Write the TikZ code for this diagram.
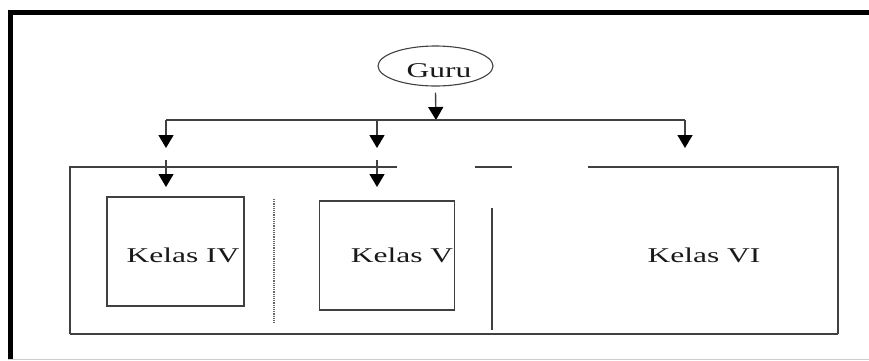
\documentclass[tikz,border=0pt]{standalone}
\usepackage{fontspec}
\setmainfont{Liberation Serif}
\usepackage{graphicx}
\usepackage{xcolor}
\usetikzlibrary{arrows.meta}
\usetikzlibrary{shapes.geometric}
\tikzset{
    plain_line/.style = {draw=black!75, line width=1.4pt},
    guru_node/.style = {ellipse, draw=black!75, line width=1.1pt, minimum width=115pt, minimum height=40pt, inner sep=0pt},
    kelas_box/.style = {plain_line, rectangle, inner sep=0pt},
    kelas_text/.style = {inner sep=0pt, text=black!90, font=\fontsize{21}{25}\selectfont},
    down_arrow/.style = {plain_line, -{Triangle[length=13pt,width=15pt,color=black]}}
}
\newcommand{\wide}[1]{\scalebox{1.5}[1]{#1}}

\begin{document}
\begin{tikzpicture}
            [x=1pt, y=-1pt]

            \useasboundingbox (0,0) rectangle (869,360);

            % outer frame
            \draw[line width=5pt, black] (10.5,360) -- (10.5,12.5) -- (872,12.5);
            \draw[line width=1pt, black!20] (8,359.5) -- (869,359.5);

            % guru and branches
            \node [guru_node] (guru) at (435.5,66) {};
            \node [kelas_text] (guru_text) at (439,71) {\wide{Guru}};
            \coordinate (branch) at (436,120);
            \coordinate (b_left) at (166,120);
            \coordinate (b_mid) at (377,120);
            \coordinate (b_right) at (685,120);
            \coordinate (t_left) at (166,148);
            \coordinate (t_mid) at (377,148);
            \coordinate (t_right) at (685,148);

            \draw[down_arrow] ([yshift=-6pt]guru.south) -- (branch);
            \draw[plain_line] (b_left) -- (b_right);
            \draw[down_arrow] (b_left) -- (t_left);
            \draw[down_arrow] (b_mid) -- (t_mid);
            \draw[down_arrow] (b_right) -- (t_right);

            % room frame
            \coordinate (r_nw) at (70,167);
            \coordinate (r_ne) at (838,167);
            \coordinate (r_sw) at (70,334);
            \coordinate (r_se) at (838,334);
            \draw[plain_line] (r_sw) -- (r_nw) -- (397,167);
            \draw[plain_line] (475,167) -- (512,167);
            \draw[plain_line] (588,167) -- (r_ne) -- (r_se);
            \draw[plain_line] (r_sw) -- (r_se);

            % classes
            \node [kelas_box, minimum width=137pt, minimum height=109pt] (kelas_iv) at (175.5,251.5) {};
            \node [kelas_box, minimum width=135pt, minimum height=109pt] (kelas_v) at (387,255.5) {};
            \node [kelas_text] (kelas_iv_text) at (183,255) {\wide{Kelas IV}};
            \node [kelas_text] (kelas_v_text) at (402,255) {\wide{Kelas V}};
            \node [kelas_text] (kelas_vi_text) at (704,255) {\wide{Kelas VI}};

            \coordinate (a_left) at (166,160);
            \coordinate (a_mid) at (377,160);
            \draw[down_arrow] (a_left) -- (166,187);
            \draw[down_arrow] (a_mid) -- (377,187);

            % partitions
            \draw[black!60, line width=1.2pt, densely dotted] (274,199) -- (274,324);
            \draw[plain_line] (492,208) -- (492,330);
        \end{tikzpicture}
\end{document}
